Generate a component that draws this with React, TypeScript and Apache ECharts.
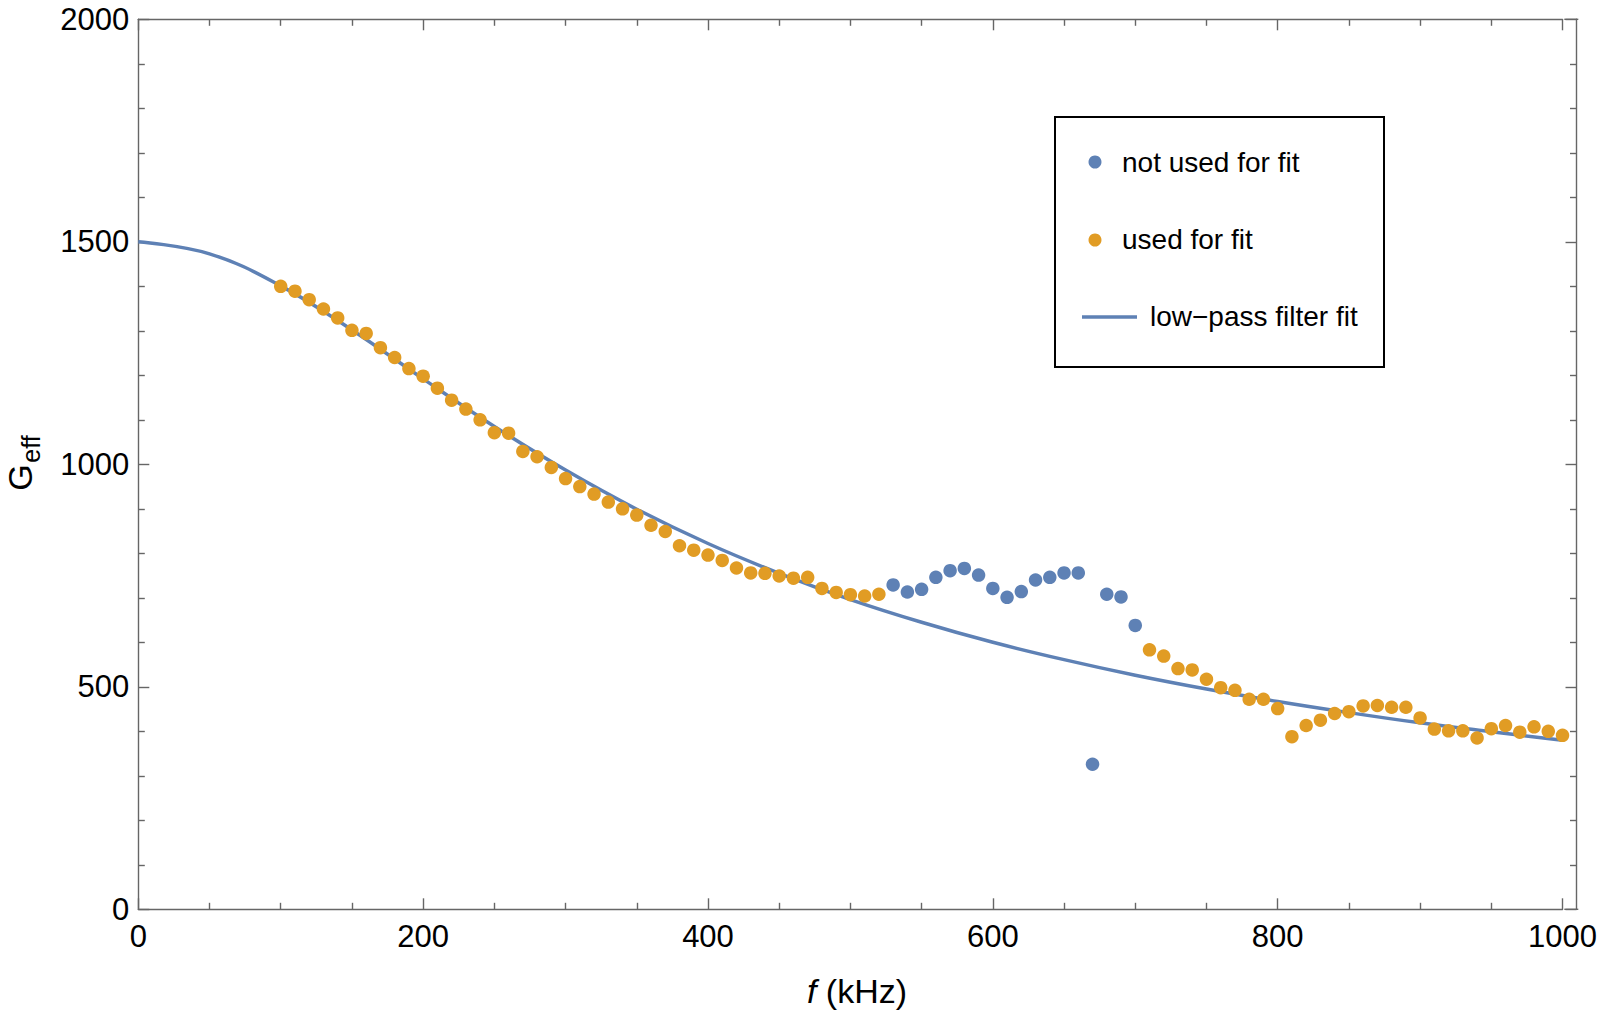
import React, { useEffect, useRef } from "react";
import * as echarts from "echarts";

// Measured points used for the fit (kHz, G_eff)
const usedF = [
  100, 110, 120, 130, 140, 150, 160, 170, 180, 190, 200, 210, 220, 230, 240, 250, 260, 270, 280, 290,
  300, 310, 320, 330, 340, 350, 360, 370, 380, 390, 400, 410, 420, 430, 440, 450, 460, 470, 480, 490,
  500, 510, 520,
  710, 720, 730, 740, 750, 760, 770, 780, 790, 800, 810, 820, 830, 840, 850, 860, 870, 880, 890, 900,
  910, 920, 930, 940, 950, 960, 970, 980, 990, 1000,
];
const usedG = [
  1400, 1389, 1370, 1349, 1329, 1301, 1294, 1262, 1240, 1215, 1198, 1171, 1144, 1124, 1100, 1071, 1070, 1029, 1017, 993,
  968, 950, 933, 915, 900, 886, 863, 849, 817, 807, 796, 784, 767, 756, 755, 749, 744, 746, 721, 712,
  707, 704, 708,
  583, 569, 541, 538, 517, 498, 492, 472, 472, 451, 388, 413, 425, 440, 444, 457, 458, 454, 454, 430,
  405, 401, 401, 385, 406, 413, 398, 410, 400, 391,
];

// Measured points not used for the fit
const notUsedF = [530, 540, 550, 560, 570, 580, 590, 600, 610, 620, 630, 640, 650, 660, 670, 680, 690, 700];
const notUsedG = [729, 713, 719, 746, 761, 766, 751, 721, 701, 714, 740, 746, 756, 756, 326, 708, 702, 638];

// Low-pass filter fit curve
const fitF = [0, 50, 100, 150, 200, 250, 300, 350, 400, 450, 500, 550, 600, 650, 700, 750, 800, 850, 900, 950, 1000];
const fitG = [1500, 1473, 1401, 1302, 1192, 1085, 987, 899, 822, 755, 696, 645, 600, 561, 526, 495, 467, 442, 419, 399, 380];

// Axis ticks
const xTicks = [0, 200, 400, 600, 800, 1000];
const yTicks = [0, 500, 1000, 1500, 2000];

const legendLabels = ["not used for fit", "used for fit", "low\u2212pass filter fit"];

const BLUE = "#5E81B5";
const ORANGE = "#E19C24";
const AXIS = "#666666";
const FONT = "'Liberation Sans', Arial, sans-serif";

// Plot frame geometry (pixels)
const GRID_LEFT = 138.3;
const GRID_TOP = 19.3;
const GRID_RIGHT_X = 1564.3; // x position of f = 1000
const FRAME_RIGHT_X = 1578.3; // the frame extends a bit past the last tick
const GRID_BOTTOM_Y = 909.3;

function zip(a: number[], b: number[]) {
  return a.map((v, i) => [v, b[i]]);
}

export default function App() {
  const ref = useRef<HTMLDivElement>(null);

  useEffect(() => {
    if (!ref.current) return;
    const chart = echarts.init(ref.current, null, { renderer: "svg" });

    const xBase = {
      type: "value" as const,
      min: xTicks[0],
      max: xTicks[xTicks.length - 1],
      interval: xTicks[1] - xTicks[0],
      axisLine: { show: true, onZero: false, lineStyle: { color: AXIS, width: 1.4 } },
      axisTick: { show: true, inside: true, length: 11, lineStyle: { color: AXIS, width: 1.4 } },
      minorTick: { show: true, splitNumber: 4, length: 6.5, lineStyle: { color: AXIS, width: 1.4 } },
      splitLine: { show: false },
    };
    const yBase = {
      type: "value" as const,
      min: yTicks[0],
      max: yTicks[yTicks.length - 1],
      interval: yTicks[1] - yTicks[0],
      axisLine: { show: true, onZero: false, lineStyle: { color: AXIS, width: 1.4 } },
      axisTick: { show: true, inside: true, length: 11, lineStyle: { color: AXIS, width: 1.4 } },
      minorTick: { show: true, splitNumber: 5, length: 6.5, lineStyle: { color: AXIS, width: 1.4 } },
      splitLine: { show: false },
    };

    const fmt = (v: number) => String(v);
    const frameStyle = { stroke: AXIS, lineWidth: 1.4 };

    const option: any = {
      animation: false,
      backgroundColor: "#ffffff",
      grid: {
        left: GRID_LEFT,
        top: GRID_TOP,
        right: 1600 - GRID_RIGHT_X,
        bottom: 1014 - GRID_BOTTOM_Y,
        containLabel: false,
      },
      xAxis: [
        {
          ...xBase,
          position: "bottom",
          axisLabel: { show: true, color: "#000", fontSize: 31, fontFamily: FONT, margin: 12, formatter: fmt },
        },
        { ...xBase, position: "top", axisLabel: { show: false } },
      ],
      yAxis: [
        {
          ...yBase,
          position: "left",
          axisLabel: { show: true, color: "#000", fontSize: 31, fontFamily: FONT, margin: 9, formatter: fmt },
        },
        {
          ...yBase,
          position: "right",
          offset: FRAME_RIGHT_X - GRID_RIGHT_X,
          axisLabel: { show: false },
        },
      ],
      series: [
        {
          name: legendLabels[2],
          type: "line",
          data: zip(fitF, fitG),
          smooth: 0.4,
          showSymbol: false,
          lineStyle: { color: BLUE, width: 3.5 },
          itemStyle: { color: BLUE },
          z: 2,
        },
        {
          name: legendLabels[0],
          type: "scatter",
          data: zip(notUsedF, notUsedG),
          symbol: "circle",
          symbolSize: 13.5,
          itemStyle: { color: BLUE, opacity: 1 },
          z: 3,
        },
        {
          name: legendLabels[1],
          type: "scatter",
          data: zip(usedF, usedG),
          symbol: "circle",
          symbolSize: 13.5,
          itemStyle: { color: ORANGE, opacity: 1 },
          z: 3,
        },
      ],
      graphic: [
        // frame extensions past f = 1000
        {
          type: "line",
          shape: { x1: GRID_RIGHT_X, y1: GRID_TOP, x2: FRAME_RIGHT_X, y2: GRID_TOP },
          style: frameStyle,
          z: 5,
        },
        {
          type: "line",
          shape: { x1: GRID_RIGHT_X, y1: GRID_BOTTOM_Y, x2: FRAME_RIGHT_X, y2: GRID_BOTTOM_Y },
          style: frameStyle,
          z: 5,
        },
        // y-axis title G_eff (rotated)
        {
          type: "text",
          x: 20,
          y: 477.5,
          rotation: Math.PI / 2,
          style: {
            text: "G",
            font: `34px ${FONT}`,
            fill: "#000",
            align: "center",
            verticalAlign: "middle",
          },
        },
        {
          type: "text",
          x: 31,
          y: 449,
          rotation: Math.PI / 2,
          style: {
            text: "eff",
            font: `25px ${FONT}`,
            fill: "#000",
            align: "center",
            verticalAlign: "middle",
          },
        },
        // x-axis title
        {
          type: "text",
          x: 857,
          y: 991,
          style: {
            text: "{i|f} (kHz)",
            font: `34px ${FONT}`,
            fill: "#000",
            align: "center",
            verticalAlign: "middle",
            rich: {
              i: { fontStyle: "italic", fontSize: 34, fontFamily: FONT, fill: "#000" },
            },
          },
        },
        // legend box
        {
          type: "rect",
          shape: { x: 1055, y: 117, width: 329, height: 250 },
          style: { fill: "#ffffff", stroke: "#000", lineWidth: 2 },
          z: 10,
        },
        {
          type: "circle",
          shape: { cx: 1095, cy: 162, r: 6.5 },
          style: { fill: BLUE },
          z: 11,
        },
        {
          type: "text",
          x: 1122,
          y: 162,
          style: {
            text: legendLabels[0],
            font: `28px ${FONT}`,
            fill: "#000",
            align: "left",
            verticalAlign: "middle",
          },
          z: 11,
        },
        {
          type: "circle",
          shape: { cx: 1095, cy: 240, r: 6.5 },
          style: { fill: ORANGE },
          z: 11,
        },
        {
          type: "text",
          x: 1122,
          y: 239,
          style: {
            text: legendLabels[1],
            font: `28px ${FONT}`,
            fill: "#000",
            align: "left",
            verticalAlign: "middle",
          },
          z: 11,
        },
        {
          type: "line",
          shape: { x1: 1082, y1: 317, x2: 1137, y2: 317 },
          style: { stroke: BLUE, lineWidth: 3.5 },
          z: 11,
        },
        {
          type: "text",
          x: 1150,
          y: 316,
          style: {
            text: legendLabels[2],
            font: `28px ${FONT}`,
            fill: "#000",
            align: "left",
            verticalAlign: "middle",
          },
          z: 11,
        },
      ],
    };

    chart.setOption(option);
    return () => chart.dispose();
  }, []);

  return (
    <div
      ref={ref}
      style={{ position: "absolute", left: 0, top: 0, width: 1600, height: 1014, background: "#fff" }}
    />
  );
}
